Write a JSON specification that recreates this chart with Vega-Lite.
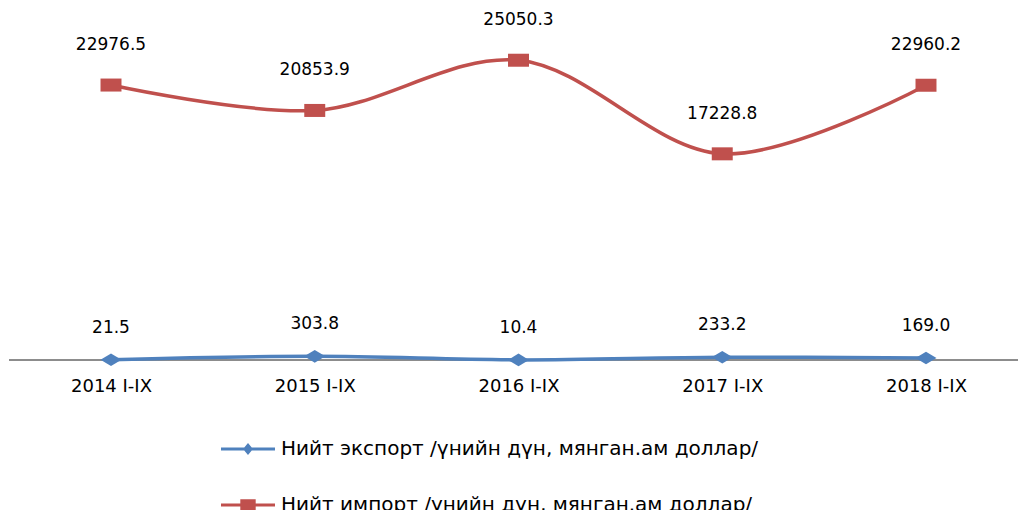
{
  "$schema": "https://vega.github.io/schema/vega-lite/v6.json",
  "width": 1009,
  "height": 359,
  "autosize": {"type": "none"},
  "padding": {"left": 9, "top": 1, "right": 0, "bottom": 150},
  "background": "white",
  "config": {"view": {"stroke": null}, "font": "DejaVu Sans"},
  "data": {
    "values": [
      {"period": "2014 I-IX", "series": "Нийт экспорт /үнийн дүн, мянган.ам доллар/", "value": 21.5},
      {"period": "2015 I-IX", "series": "Нийт экспорт /үнийн дүн, мянган.ам доллар/", "value": 303.8},
      {"period": "2016 I-IX", "series": "Нийт экспорт /үнийн дүн, мянган.ам доллар/", "value": 10.4},
      {"period": "2017 I-IX", "series": "Нийт экспорт /үнийн дүн, мянган.ам доллар/", "value": 233.2},
      {"period": "2018 I-IX", "series": "Нийт экспорт /үнийн дүн, мянган.ам доллар/", "value": 169.0},
      {"period": "2014 I-IX", "series": "Нийт импорт /үнийн дүн, мянган.ам доллар/", "value": 22976.5},
      {"period": "2015 I-IX", "series": "Нийт импорт /үнийн дүн, мянган.ам доллар/", "value": 20853.9},
      {"period": "2016 I-IX", "series": "Нийт импорт /үнийн дүн, мянган.ам доллар/", "value": 25050.3},
      {"period": "2017 I-IX", "series": "Нийт импорт /үнийн дүн, мянган.ам доллар/", "value": 17228.8},
      {"period": "2018 I-IX", "series": "Нийт импорт /үнийн дүн, мянган.ам доллар/", "value": 22960.2}
    ]
  },
  "layer": [
    {
      "mark": {"type": "rule", "color": "#8c8c8c", "strokeWidth": 1},
      "encoding": {
        "y": {"datum": 0, "type": "quantitative", "scale": {"domain": [0, 30000], "nice": false}, "axis": null}
      }
    },
    {
      "mark": {"type": "line", "interpolate": "catmull-rom", "strokeWidth": 3.5},
      "encoding": {
        "x": {
          "field": "period", "type": "ordinal",
          "scale": {"type": "point", "range": [102, 917], "padding": 0},
          "axis": {"title": null, "labelAngle": 0, "ticks": false, "grid": false, "domain": false, "labelFont": "DejaVu Sans", "labelFontSize": 18, "labelColor": "#000000", "labelPadding": 17}
        },
        "y": {"field": "value", "type": "quantitative", "scale": {"domain": [0, 30000], "nice": false}, "axis": null},
        "color": {"field": "series", "type": "nominal", "scale": {"domain": ["Нийт экспорт /үнийн дүн, мянган.ам доллар/", "Нийт импорт /үнийн дүн, мянган.ам доллар/"], "range": ["#4F81BD", "#C0504D"]}, "legend": null}
      }
    },
    {
      "mark": {"type": "point", "filled": true, "opacity": 1, "size": 440},
      "encoding": {
        "x": {"field": "period", "type": "ordinal"},
        "y": {"field": "value", "type": "quantitative"},
        "color": {"field": "series", "type": "nominal", "scale": {"domain": ["Нийт экспорт /үнийн дүн, мянган.ам доллар/", "Нийт импорт /үнийн дүн, мянган.ам доллар/"], "range": ["#4F81BD", "#C0504D"]}, "legend": null},
        "shape": {"field": "series", "type": "nominal", "scale": {"domain": ["Нийт экспорт /үнийн дүн, мянган.ам доллар/", "Нийт импорт /үнийн дүн, мянган.ам доллар/"], "range": ["M-1,0L0,-0.6L1,0L0,0.6Z", "M-1,-0.62H1V0.62H-1Z"]}, "legend": null}
      }
    },
    {
      "transform": [{"filter": "datum.series == 'Нийт экспорт /үнийн дүн, мянган.ам доллар/'"}],
      "mark": {"type": "text", "dy": -32, "font": "DejaVu Sans", "fontSize": 17, "color": "#000000"},
      "encoding": {
        "x": {"field": "period", "type": "ordinal"},
        "y": {"field": "value", "type": "quantitative"},
        "text": {"field": "value", "type": "quantitative", "format": ".1f"}
      }
    },
    {
      "transform": [{"filter": "datum.series == 'Нийт импорт /үнийн дүн, мянган.ам доллар/'"}],
      "mark": {"type": "text", "dy": -40, "font": "DejaVu Sans", "fontSize": 17, "color": "#000000"},
      "encoding": {
        "x": {"field": "period", "type": "ordinal"},
        "y": {"field": "value", "type": "quantitative"},
        "text": {"field": "value", "type": "quantitative", "format": ".1f"}
      }
    },
    {
      "transform": [{"filter": "false"}],
      "mark": {"type": "point", "filled": true, "opacity": 1, "size": 2916},
      "encoding": {
        "x": {"field": "period", "type": "ordinal"},
        "y": {"field": "value", "type": "quantitative"},
        "color": {"field": "series", "type": "nominal", "scale": {"domain": ["Нийт экспорт /үнийн дүн, мянган.ам доллар/", "Нийт импорт /үнийн дүн, мянган.ам доллар/"], "range": ["#4F81BD", "#C0504D"]},
          "legend": {"title": null, "orient": "none", "legendX": 212, "legendY": 421, "direction": "vertical", "rowPadding": 19, "padding": 0, "symbolSize": 2916, "symbolStrokeWidth": 0, "labelFont": "DejaVu Sans", "labelFontSize": 20, "labelColor": "#000000", "labelOffset": 6, "labelLimit": 0}},
        "shape": {"field": "series", "type": "nominal", "scale": {"domain": ["Нийт экспорт /үнийн дүн, мянган.ам доллар/", "Нийт импорт /үнийн дүн, мянган.ам доллар/"], "range": ["M-1,-0.056H1V0.056H-1Z M-0.185,0L0,-0.22L0.185,0L0,0.22Z", "M-1,-0.056H1V0.056H-1Z M-0.285,-0.215H0.285V0.215H-0.285Z"]},
          "legend": {"title": null, "orient": "none", "legendX": 212, "legendY": 421, "direction": "vertical", "rowPadding": 19, "padding": 0, "symbolSize": 2916, "symbolStrokeWidth": 0, "labelFont": "DejaVu Sans", "labelFontSize": 20, "labelColor": "#000000", "labelOffset": 6, "labelLimit": 0}}
      }
    }
  ],
  "resolve": {"scale": {"color": "independent", "shape": "independent"}, "legend": {"color": "independent", "shape": "independent"}}
}
